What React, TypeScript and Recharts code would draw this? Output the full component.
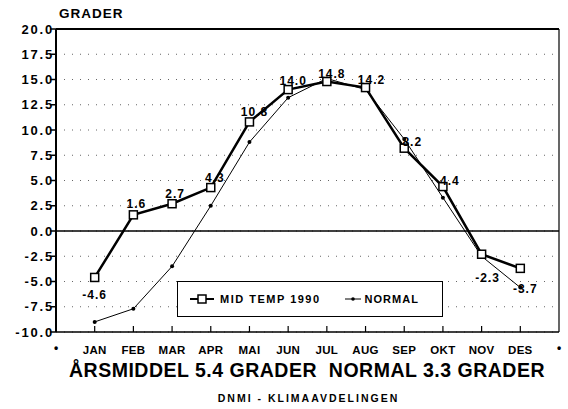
import { LineChart, Line, XAxis, YAxis, CartesianGrid, ReferenceLine, LabelList } from 'recharts';

const months = ['JAN', 'FEB', 'MAR', 'APR', 'MAI', 'JUN', 'JUL', 'AUG', 'SEP', 'OKT', 'NOV', 'DES'];
const midTemp1990 = [-4.6, 1.6, 2.7, 4.3, 10.8, 14.0, 14.8, 14.2, 8.2, 4.4, -2.3, -3.7];
const normal = [-9.0, -7.7, -3.5, 2.5, 8.8, 13.2, 15.1, 14.0, 9.1, 3.3, -2.5, -5.6];
const yTicks = [-10, -7.5, -5, -2.5, 0, 2.5, 5, 7.5, 10, 12.5, 15, 17.5, 20];
const xTicks = [0, 1, 2, 3, 4, 5, 6, 7, 8, 9, 10, 11, 12, 13];

const data = months.map((m, i) => ({ x: i + 1, month: m, mid: midTemp1990[i], normal: normal[i] }));

// label placement around the squares (dx, dy from the point to the text centre)
const labelOffsets: [number, number][] = [
  [0, 17], [3, -11], [3, -10], [4, -10], [5, -10], [5, -9],
  [5, -8], [6, -8], [8, -7], [7, -6], [6, 23], [5, 20],
];

const FONT = '"Liberation Sans", Arial, sans-serif';

const SquareDot = (props: any) => {
  const { cx, cy, index } = props;
  if (cx == null || cy == null) return <g key={index} />;
  return <rect key={index} x={cx - 4} y={cy - 4} width={8} height={8} fill="#fff" stroke="#000" strokeWidth={1.5} />;
};

const SmallDot = (props: any) => {
  const { cx, cy, index } = props;
  if (cx == null || cy == null) return <g key={index} />;
  return <circle key={index} cx={cx} cy={cy} r={2} fill="#000" />;
};

const MidLabel = (props: any) => {
  const { x, y, index, value } = props;
  const [dx, dy] = labelOffsets[index] || [0, -10];
  return (
    <text x={x + dx} y={y + dy + 4.5} textAnchor="middle" fontFamily={FONT} fontWeight="bold" fontSize={12} letterSpacing={1} fill="#000">
      {Number(value).toFixed(1)}
    </text>
  );
};

const XTick = (props: any) => {
  const { x, y, payload } = props;
  const v = payload.value;
  if (v === 0 || v === 13) {
    return <text x={x} y={y + 20} textAnchor="middle" fontFamily={FONT} fontSize={12} fontWeight="bold" fill="#000">•</text>;
  }
  return (
    <g>
      <line x1={x} y1={y} x2={x} y2={y - 6} stroke="#000" strokeWidth={1.2} />
      <text x={x} y={y + 21.5} textAnchor="middle" fontFamily={FONT} fontWeight="bold" fontSize={11.5} letterSpacing={0.3} fill="#000">
        {months[v - 1]}
      </text>
    </g>
  );
};

const YTick = (props: any) => {
  const { x, y, payload } = props;
  return (
    <text x={x + 4} y={y + 4.5} textAnchor="end" fontFamily={FONT} fontWeight="bold" fontSize={13} letterSpacing={1.8} fill="#000">
      {Number(payload.value).toFixed(1)}
    </text>
  );
};

const LegendBox = () => (
  <div style={{ position: 'absolute', left: 177, top: 281, width: 266, height: 36, boxSizing: 'border-box', border: '1.5px solid #000', display: 'flex', alignItems: 'center', fontFamily: FONT, fontWeight: 'bold', fontSize: 11, letterSpacing: 1.5, background: '#fff' }}>
    <svg width={30} height={12} style={{ marginLeft: 10 }}>
      <line x1={2} y1={6} x2={26} y2={6} stroke="#000" strokeWidth={2} />
      <rect x={10} y={2} width={8} height={8} fill="#fff" stroke="#000" strokeWidth={1.5} />
    </svg>
    <span style={{ marginLeft: 2 }}>MID TEMP 1990</span>
    <svg width={20} height={12} style={{ marginLeft: 22 }}>
      <line x1={2} y1={6} x2={18} y2={6} stroke="#000" strokeWidth={1} />
      <circle cx={10} cy={6} r={1.8} fill="#000" />
    </svg>
    <span style={{ marginLeft: 2, letterSpacing: 1 }}>NORMAL</span>
  </div>
);

export default function App() {
  return (
    <div style={{ position: 'absolute', left: 0, top: 0, width: 568, height: 409, background: '#fff', overflow: 'hidden' }}>
      <div style={{ position: 'absolute', left: 59, top: 6, fontFamily: FONT, fontWeight: 'bold', fontSize: 13.5, letterSpacing: 1 }}>GRADER</div>
      <LineChart width={568} height={409} data={data} margin={{ top: 29, right: 9, left: 0, bottom: 57 }}>
        <CartesianGrid vertical={false} stroke="#666" strokeDasharray="1 7" />
        <XAxis
          type="number"
          dataKey="x"
          domain={[0, 13]}
          ticks={xTicks}
          interval={0}
          tickSize={0}
          tickMargin={0}
          height={20}
          tickLine={false}
          axisLine={{ stroke: '#000', strokeWidth: 1.5 }}
          tick={<XTick />}
        />
        <YAxis
          domain={[-10, 20]}
          ticks={yTicks}
          interval={0}
          width={56}
          tickSize={6}
          tickMargin={0}
          tickLine={{ stroke: '#000', strokeWidth: 1.5 }}
          axisLine={{ stroke: '#000', strokeWidth: 2 }}
          tick={<YTick />}
        />
        <ReferenceLine y={0} stroke="#000" strokeWidth={1.5} />
        <ReferenceLine y={20} stroke="#000" strokeWidth={2} />
        <ReferenceLine x={13} stroke="#000" strokeWidth={1.2} />
        <Line type="linear" dataKey="normal" stroke="#000" strokeWidth={1} dot={<SmallDot />} isAnimationActive={false} />
        <Line type="linear" dataKey="mid" stroke="#000" strokeWidth={2.5} dot={<SquareDot />} isAnimationActive={false}>
          <LabelList dataKey="mid" content={<MidLabel />} />
        </Line>
      </LineChart>
      <LegendBox />
      <div style={{ position: 'absolute', left: 0, width: 614, top: 359, textAlign: 'center', fontFamily: FONT, fontWeight: 'bold', fontSize: 19.5, letterSpacing: 0.5, whiteSpace: 'pre' }}>
        {'ÅRSMIDDEL 5.4 GRADER  NORMAL 3.3 GRADER'}
      </div>
      <div style={{ position: 'absolute', left: 0, width: 617, top: 392, textAlign: 'center', fontFamily: FONT, fontWeight: 'bold', fontSize: 10.5, letterSpacing: 2 }}>
        DNMI - KLIMAAVDELINGEN
      </div>
    </div>
  );
}
